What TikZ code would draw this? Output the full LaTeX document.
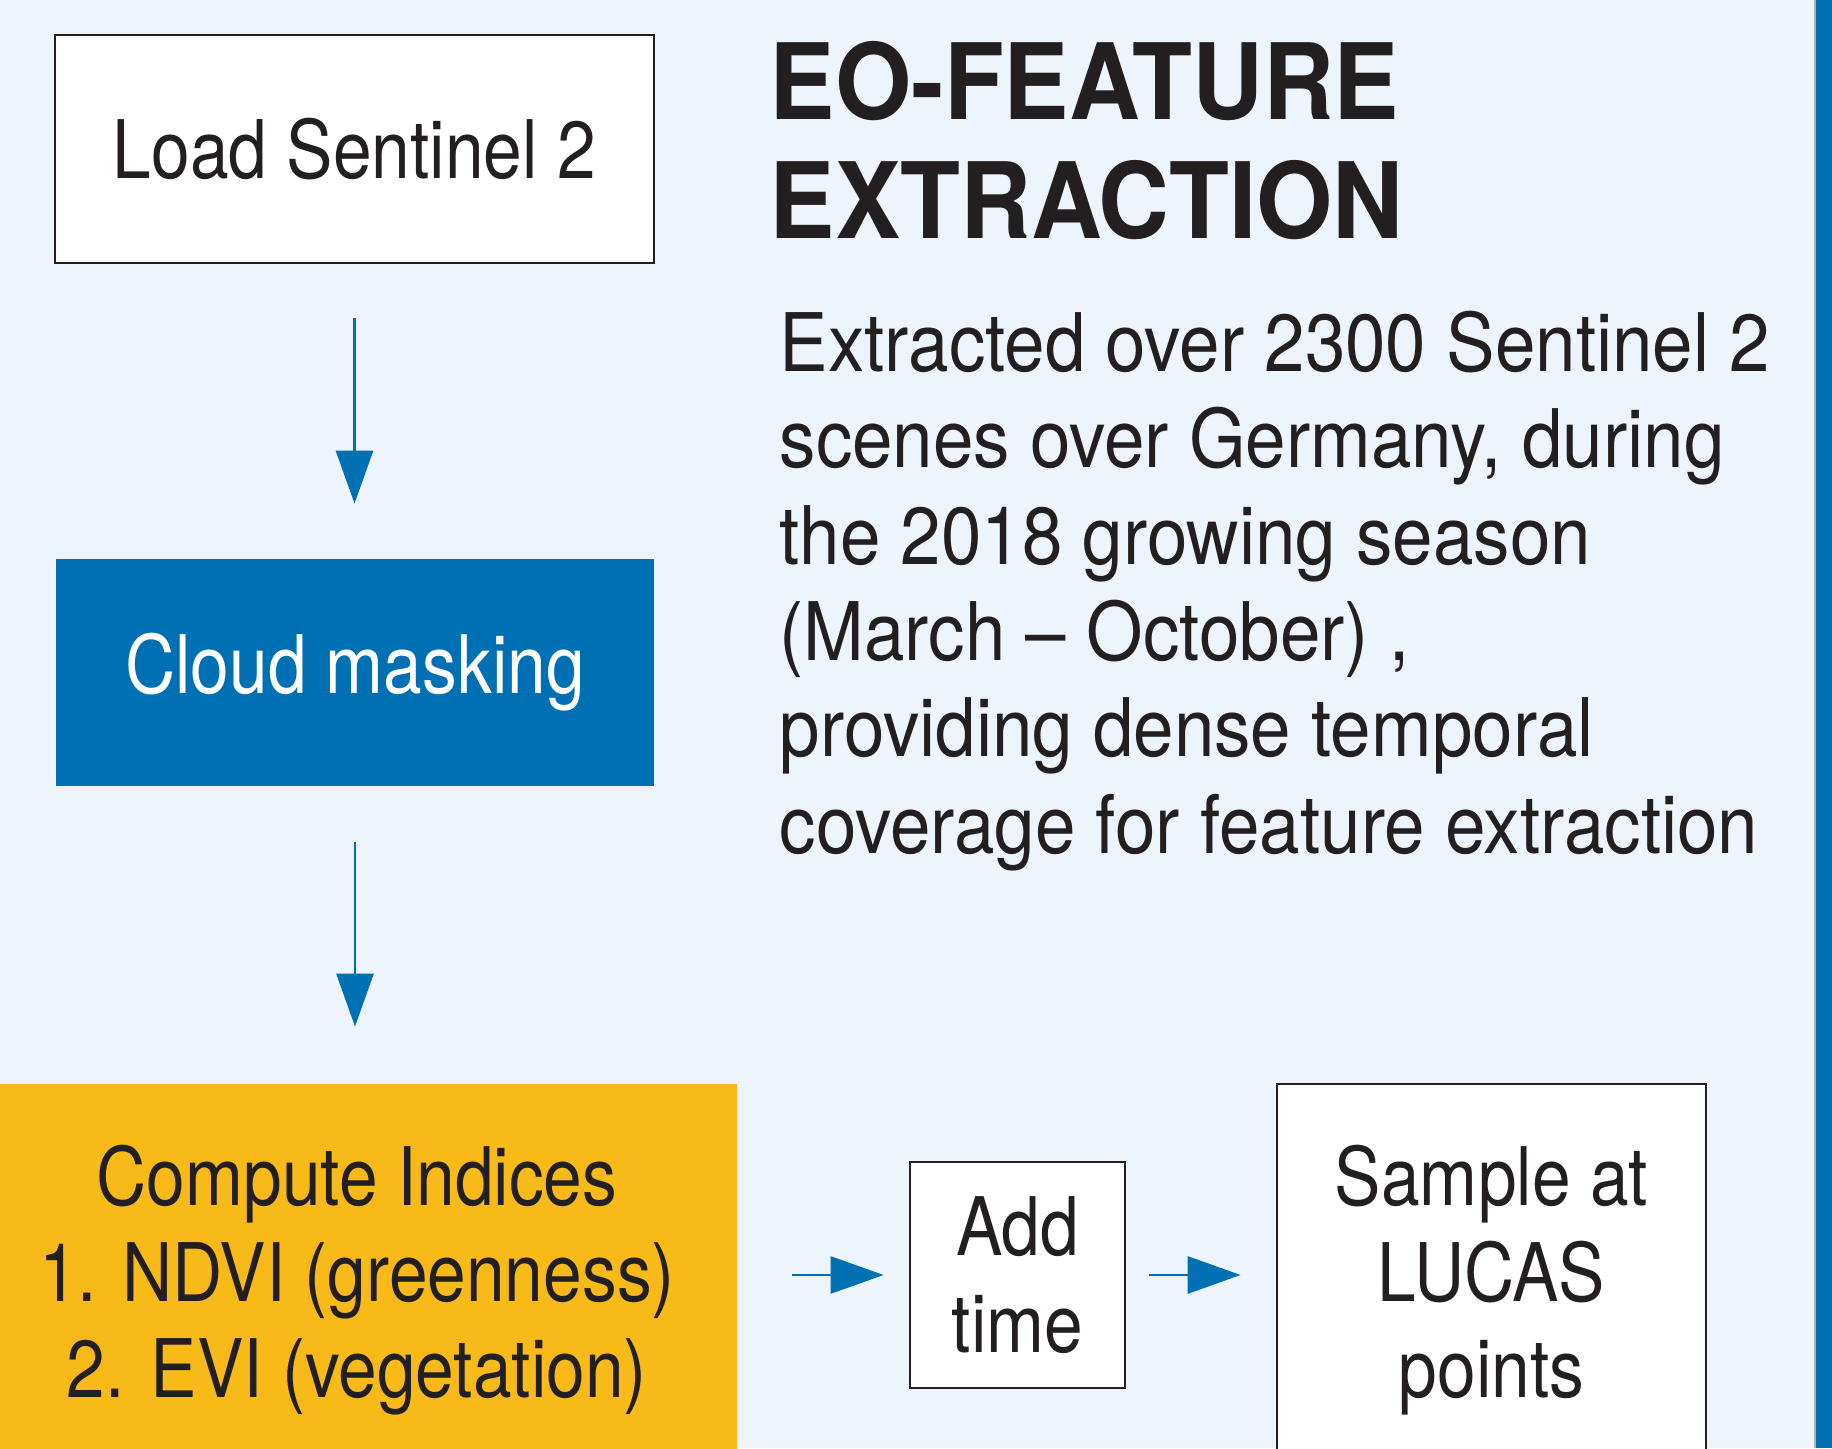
\documentclass[tikz,border=0pt]{standalone}
\usepackage{fontspec}
\setmainfont{TeX Gyre Heros}[FakeStretch=0.86]
\newfontfamily\descfont{TeX Gyre Heros}[FakeStretch=0.90, Ligatures=TeX]
\newfontfamily\titlefont{TeX Gyre Heros}[FakeStretch=0.93]
\usetikzlibrary{arrows.meta}
\definecolor{bgblue}{RGB}{237,244,252}
\definecolor{eoblue}{RGB}{0,112,181}
\definecolor{eoyellow}{RGB}{248,186,24}
\definecolor{inkblack}{RGB}{35,31,32}

\begin{document}
\begin{tikzpicture}[
  box/.style = {draw=inkblack, line width=0.8pt, fill=white, align=center, inner sep=0},
  flow/.style = {-{Triangle[length=0.53cm, width=0.37cm]}, eoblue, line width=0.8pt},
  txt/.style = {font=\fontsize{23}{27.4}\selectfont, text=inkblack}
]
\useasboundingbox (0,0) rectangle (18.32,14.48);
\clip (0,0) rectangle (18.32,14.48);
\fill[bgblue] (0,0) rectangle (18.32,14.48);
\fill[eoblue] (18.15,0) rectangle (18.32,14.48);
\draw[gray!60, line width=0.4pt] (18.15,0) -- (18.15,14.48);

\node[box, txt, minimum width=5.99cm, minimum height=2.28cm] (load) at (3.545,12.99) {Load Sentinel 2};
\node[box, txt, draw=none, fill=eoblue, text=white, minimum width=5.98cm, minimum height=2.27cm] (cloud) at (3.55,7.755) {Cloud masking};
\node[box, txt, draw=none, fill=eoyellow, minimum width=7.6cm, minimum height=3.92cm] (comp) at (3.57,1.68) {Compute Indices\\1. NDVI (greenness)\\2. EVI (vegetation)};
\node[box, txt, minimum width=2.15cm, minimum height=2.26cm] (add) at (10.175,1.73) {Add\\time};
\node[box, txt, minimum width=4.29cm, minimum height=3.92cm] (sample) at (14.915,1.68) {Sample at\\LUCAS\\points};

\draw[flow, shorten <=0.54cm, shorten >=0.54cm] (load.south) -- (load.south |- cloud.north);
\draw[flow, shorten <=0.55cm, shorten >=0.56cm] (cloud.south) -- (cloud.south |- comp.north);
\draw[flow, shorten <=0.54cm, shorten >=0.25cm] (comp.east |- add.west) -- (add.west);
\draw[flow, shorten <=0.23cm, shorten >=0.35cm] (add.east) -- (add.east -| sample.west);

\node[anchor=base west, align=left, inner sep=0, text=inkblack, font=\titlefont\fontsize{30}{33.9}\selectfont\bfseries] (title) at (7.69,12.09) {EO-FEATURE\\EXTRACTION};
\node[anchor=base west, align=left, inner sep=0, txt, font=\descfont\fontsize{23}{27.4}\selectfont] (desc) at (7.79,5.95) {Extracted over 2300 Sentinel 2\\scenes over Germany, during\\the 2018 growing season\\(March – October) ,\\providing dense temporal\\coverage for feature extraction};

\end{tikzpicture}
\end{document}
